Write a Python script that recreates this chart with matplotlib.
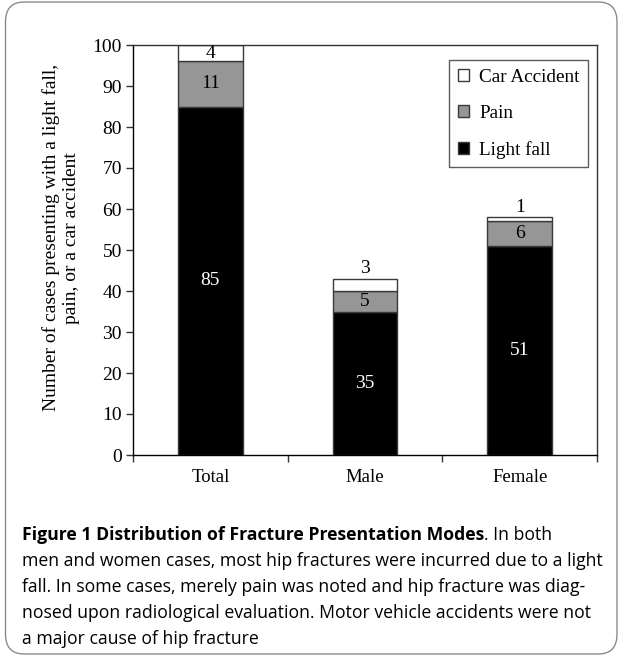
import matplotlib
matplotlib.use("Agg")
import matplotlib.pyplot as plt
from matplotlib.patches import FancyBboxPatch
import numpy as np

categories = ["Total", "Male", "Female"]
light_fall = [85, 35, 51]
pain = [11, 5, 6]
car_accident = [4, 3, 1]
y_ticks = [0, 10, 20, 30, 40, 50, 60, 70, 80, 90, 100]
y_label = "Number of cases presenting with a light fall,\npain, or a car accident"
caption_bold = "Figure 1 Distribution of Fracture Presentation Modes"
caption_lines = [
    ". In both",
    "men and women cases, most hip fractures were incurred due to a light",
    "fall. In some cases, merely pain was noted and hip fracture was diag-",
    "nosed upon radiological evaluation. Motor vehicle accidents were not",
    "a major cause of hip fracture",
]

W, H = 623, 660
fig = plt.figure(figsize=(W / 100, H / 100), dpi=100)
fig.patch.set_facecolor("white")

# outer rounded border
border = FancyBboxPatch((5.5 / W, 6 / H), (617 - 5.5) / W, (658 - 6) / H,
                        boxstyle="round,pad=0,rounding_size=0.03",
                        transform=fig.transFigure, fill=False,
                        edgecolor="#8a8a8a", linewidth=1.0)
fig.patches.append(border)

serif = "Liberation Serif"
ax = fig.add_axes([133 / W, 1 - 455 / H, (597 - 133) / W, (455 - 45) / H])
x = np.arange(len(categories))
bw = 0.42
lf = np.array(light_fall, dtype=float)
pn = np.array(pain, dtype=float)
ca = np.array(car_accident, dtype=float)
ec = "#3a3a3a"
b1 = ax.bar(x, lf, bw, color="black", edgecolor=ec, linewidth=1.0, label="Light fall")
b2 = ax.bar(x, pn, bw, bottom=lf, color="#969696", edgecolor=ec, linewidth=1.0, label="Pain")
b3 = ax.bar(x, ca, bw, bottom=lf + pn, color="white", edgecolor=ec, linewidth=1.0, label="Car Accident")

fs = 14
for i in range(len(x)):
    ax.text(x[i], lf[i] / 2, f"{light_fall[i]}", ha="center", va="center",
            color="white", fontsize=fs, family=serif)
    ax.text(x[i], lf[i] + pn[i] / 2, f"{pain[i]}", ha="center", va="center",
            color="black", fontsize=fs, family=serif)
    top = lf[i] + pn[i] + ca[i]
    if ca[i] >= 3.5:
        ax.text(x[i], lf[i] + pn[i] + ca[i] / 2, f"{car_accident[i]}", ha="center",
                va="center", color="black", fontsize=fs, family=serif)
    else:
        ax.annotate(f"{car_accident[i]}", (x[i], top), xytext=(0, 1),
                    textcoords="offset points", ha="center", va="bottom",
                    fontsize=fs, family=serif)

ax.set_xlim(-0.5, 2.5)
ax.set_ylim(0, 100)
ax.set_yticks(y_ticks)
ax.set_yticklabels([str(v) for v in y_ticks], family=serif, fontsize=fs)
ax.set_xticks([-0.5, 0.5, 1.5, 2.5])
ax.set_xticklabels([])
ax.set_xticks(x, minor=True)
ax.set_xticklabels(categories, minor=True, family=serif, fontsize=13.5)
ax.tick_params(axis="x", which="minor", length=0, pad=10)
ax.tick_params(axis="both", which="major", direction="out", length=5, width=1, color="#333333")
ax.tick_params(axis="y", pad=3)
for s in ax.spines.values():
    s.set_color("#333333")
    s.set_linewidth(1.0)
ax.spines["left"].set_color("black")
ax.spines["bottom"].set_color("black")
ax.set_ylabel(y_label, family=serif, fontsize=fs, linespacing=1.2)
ax.yaxis.set_label_coords((80 - 133) / (597 - 133), 0.53)

leg = ax.legend(handles=[b3, b2, b1], loc="upper right",
                bbox_to_anchor=((588 - 133) / (597 - 133), (455 - 60) / (455 - 45)),
                prop={"family": serif, "size": 13.8}, frameon=True, fancybox=False,
                edgecolor="#333333", handlelength=0.6, handleheight=0.6,
                handletextpad=0.5, labelspacing=1.0, borderpad=0.45, borderaxespad=0)
leg.get_frame().set_linewidth(1.0)

# caption
sans = "Open Sans"
x0 = 22 / W
y_lines = [535, 561, 587, 613, 639]
fig.canvas.draw()
renderer = fig.canvas.get_renderer()
probe = fig.text(0, 0, caption_lines[1], family=sans, fontsize=10)
pw = probe.get_window_extent(renderer).width
probe.remove()
cfs = 10 * (604 - 22) / pw

tb = fig.text(x0, 1 - y_lines[0] / H, caption_bold, family=sans, fontsize=cfs,
              weight="bold", va="center", ha="left")
bb = tb.get_window_extent(renderer)
fig.text(bb.x1 / W, 1 - y_lines[0] / H, caption_lines[0], family=sans, fontsize=cfs,
         va="center", ha="left")
for k in range(1, len(caption_lines)):
    fig.text(x0, 1 - y_lines[k] / H, caption_lines[k], family=sans, fontsize=cfs,
             va="center", ha="left")

fig.savefig("out.png", dpi=100, facecolor="white")
